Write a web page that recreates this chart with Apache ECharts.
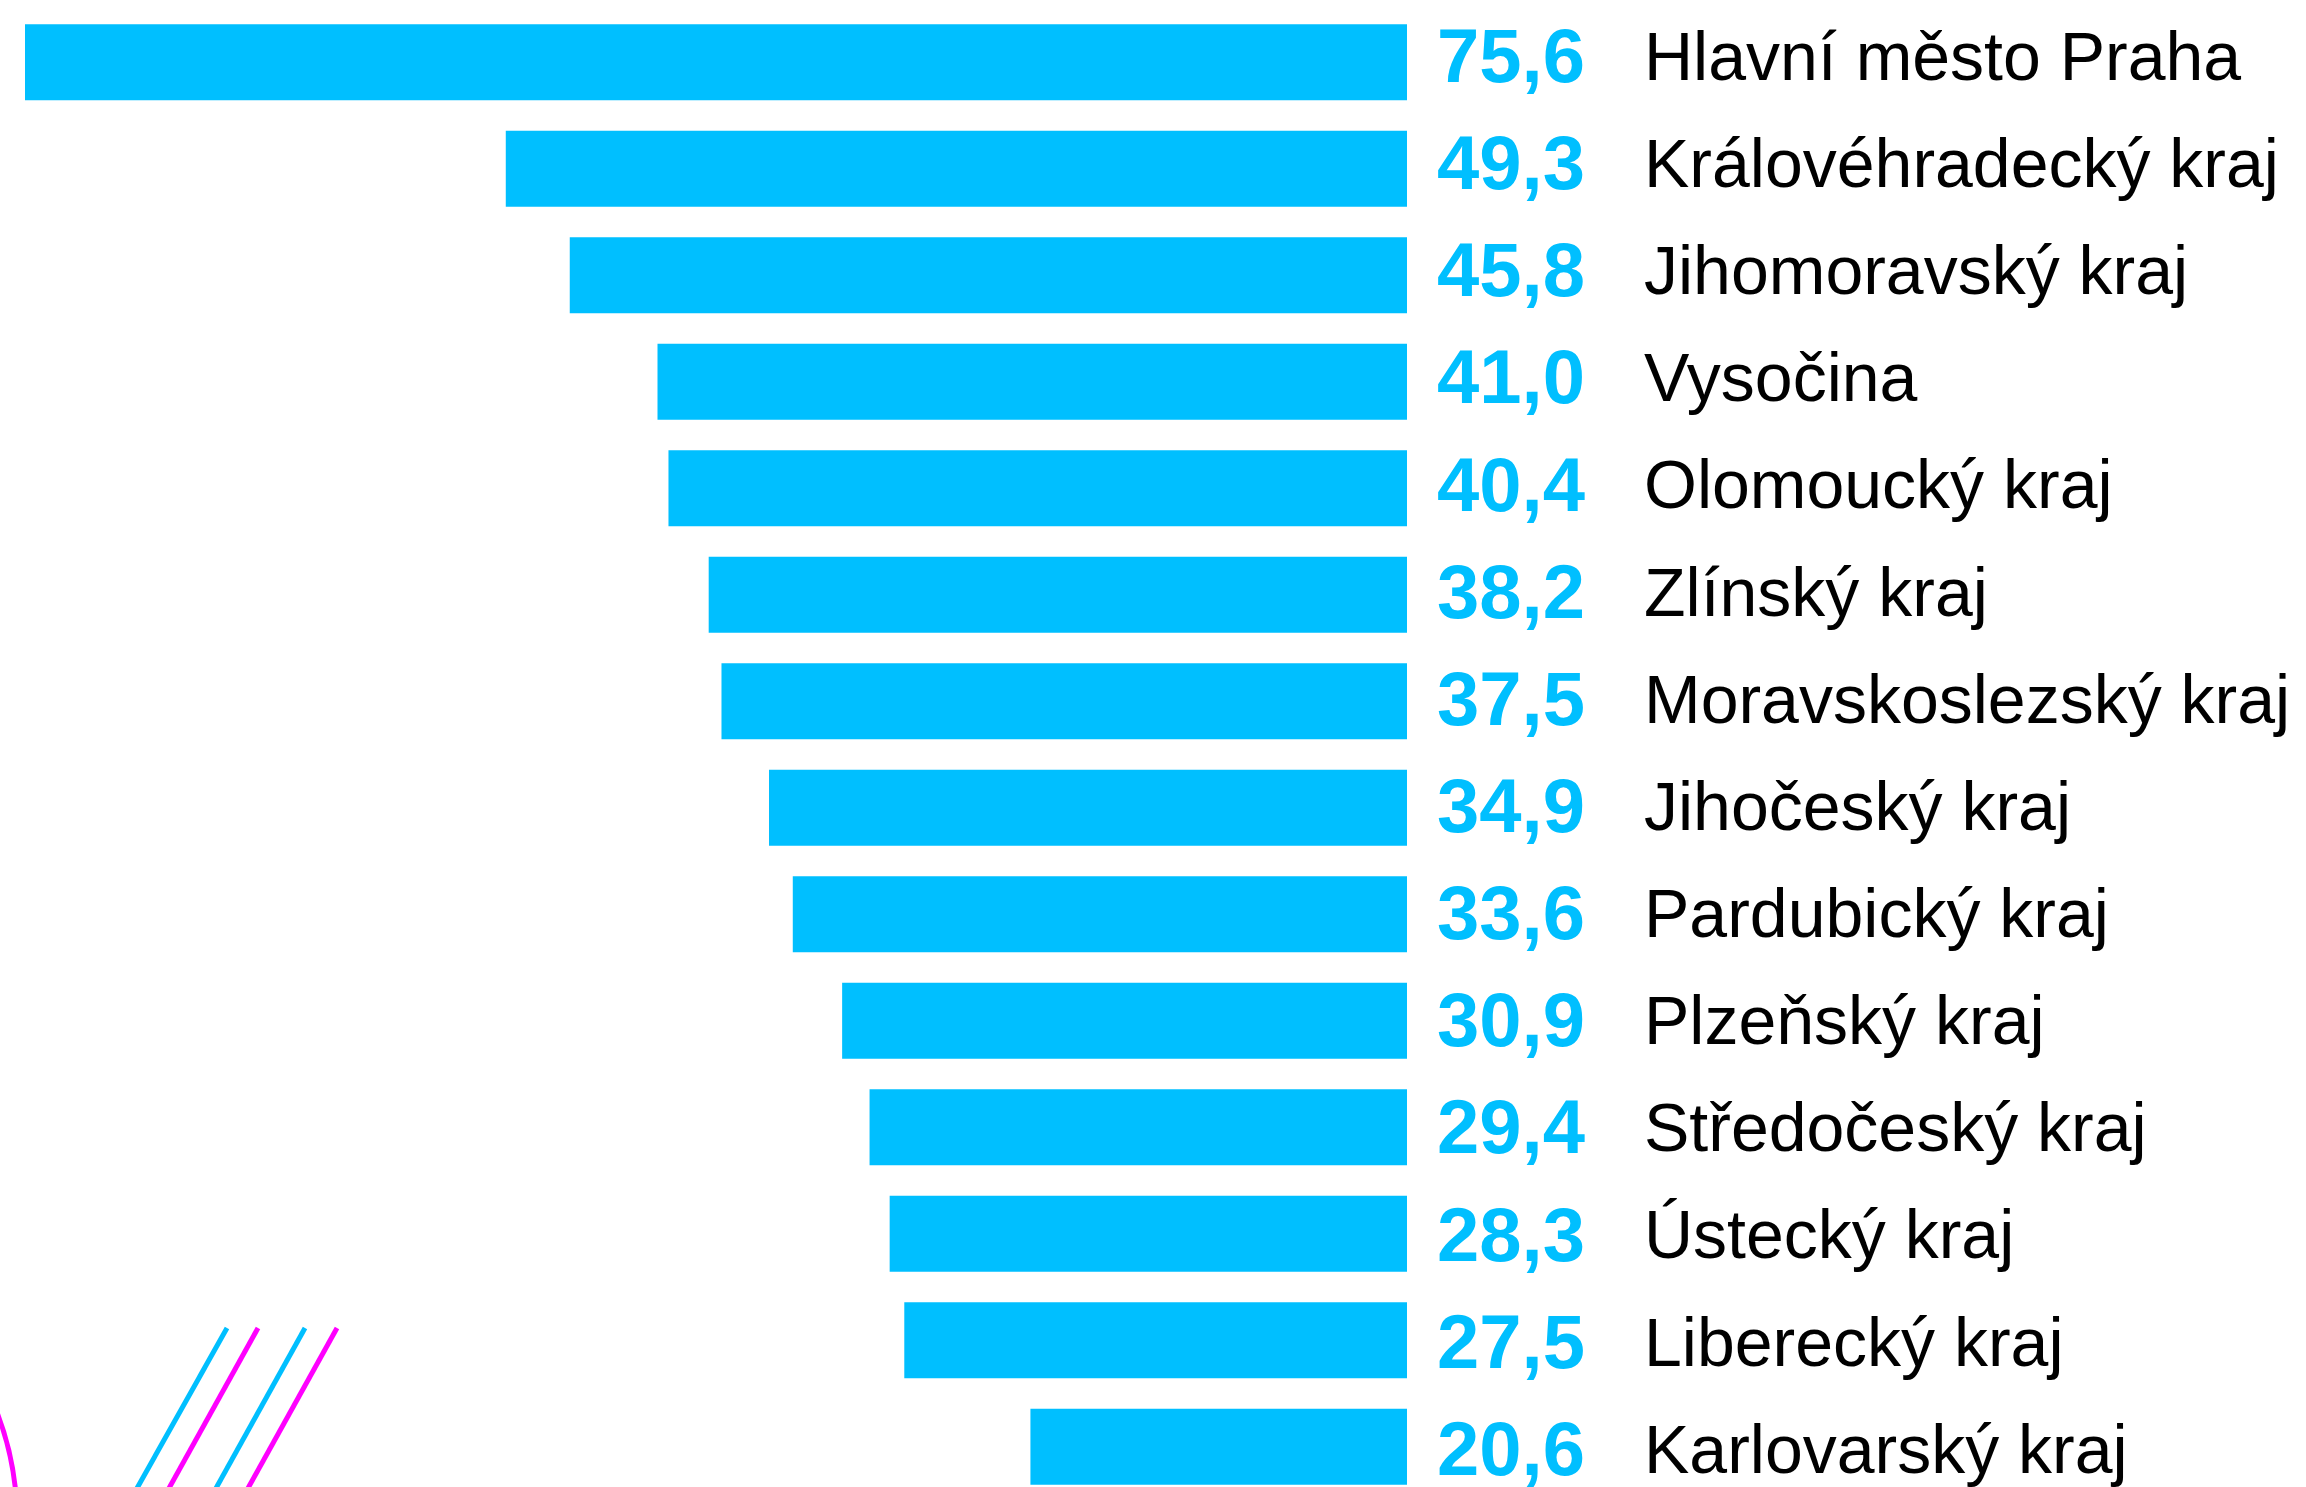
<!DOCTYPE html>
<html>
<head>
<meta charset="utf-8">
<script src="https://cdn.jsdelivr.net/npm/echarts@6/dist/echarts.min.js"></script>
<style>
html,body{margin:0;padding:0;background:#fff;}
#chart{width:2306px;height:1487px;}
</style>
</head>
<body>
<div id="chart"></div>
<script>
const regions = ["Hlavní město Praha","Královéhradecký kraj","Jihomoravský kraj","Vysočina","Olomoucký kraj","Zlínský kraj","Moravskoslezský kraj","Jihočeský kraj","Pardubický kraj","Plzeňský kraj","Středočeský kraj","Ústecký kraj","Liberecký kraj","Karlovarský kraj"];
const values = [75.6,49.3,45.8,41.0,40.4,38.2,37.5,34.9,33.6,30.9,29.4,28.3,27.5,20.6];

const CYAN = '#00BFFF';
const MAGENTA = '#FF00FF';
const chart = echarts.init(document.getElementById('chart'), null, {renderer:'canvas'});
chart.setOption({
  animation:false,
  backgroundColor:'#fff',
  grid:[
    {left:25, width:1382, top:9, height:1491, containLabel:false, outerBoundsMode:'none'},
    {left:25, width:1382, top:7.5, height:1500, containLabel:false, outerBoundsMode:'none'}
  ],
  xAxis:[
    {type:'value', gridIndex:0, inverse:true, min:0, max:75.6, show:false},
    {type:'value', gridIndex:1, inverse:true, min:0, max:75.6, show:false}
  ],
  yAxis:[
    {type:'category', gridIndex:0, data:regions, inverse:true, show:false},
    {
      type:'category', gridIndex:1, data:regions, inverse:true, position:'right',
      axisLine:{show:false}, axisTick:{show:false}, splitLine:{show:false},
      axisLabel:{
        margin:30,
        align:'left',
        formatter:function(v, i){
          return '{v|' + values[i].toFixed(1).replace('.', ',') + '}{n|' + v + '}';
        },
        rich:{
          v:{fontFamily:'Liberation Sans', fontSize:76, fontWeight:'bold', color:CYAN, width:207},
          n:{fontFamily:'Liberation Sans', fontSize:68, color:'#000'}
        }
      }
    }
  ],
  series:[{
    type:'bar', xAxisIndex:0, yAxisIndex:0, data:values, barWidth:76,
    itemStyle:{color:CYAN}, label:{show:false}
  }],
  graphic:[
    {type:'circle', shape:{cx:-283, cy:1520, r:300}, style:{fill:null, stroke:MAGENTA, lineWidth:5}, silent:true},
    {type:'line', shape:{x1:227, y1:1328, x2:136, y2:1490}, style:{stroke:CYAN, lineWidth:5}, silent:true},
    {type:'line', shape:{x1:258, y1:1328, x2:168, y2:1490}, style:{stroke:MAGENTA, lineWidth:5}, silent:true},
    {type:'line', shape:{x1:305, y1:1328, x2:215, y2:1490}, style:{stroke:CYAN, lineWidth:5}, silent:true},
    {type:'line', shape:{x1:337, y1:1328, x2:247, y2:1490}, style:{stroke:MAGENTA, lineWidth:5}, silent:true}
  ]
});
</script>
</body>
</html>
